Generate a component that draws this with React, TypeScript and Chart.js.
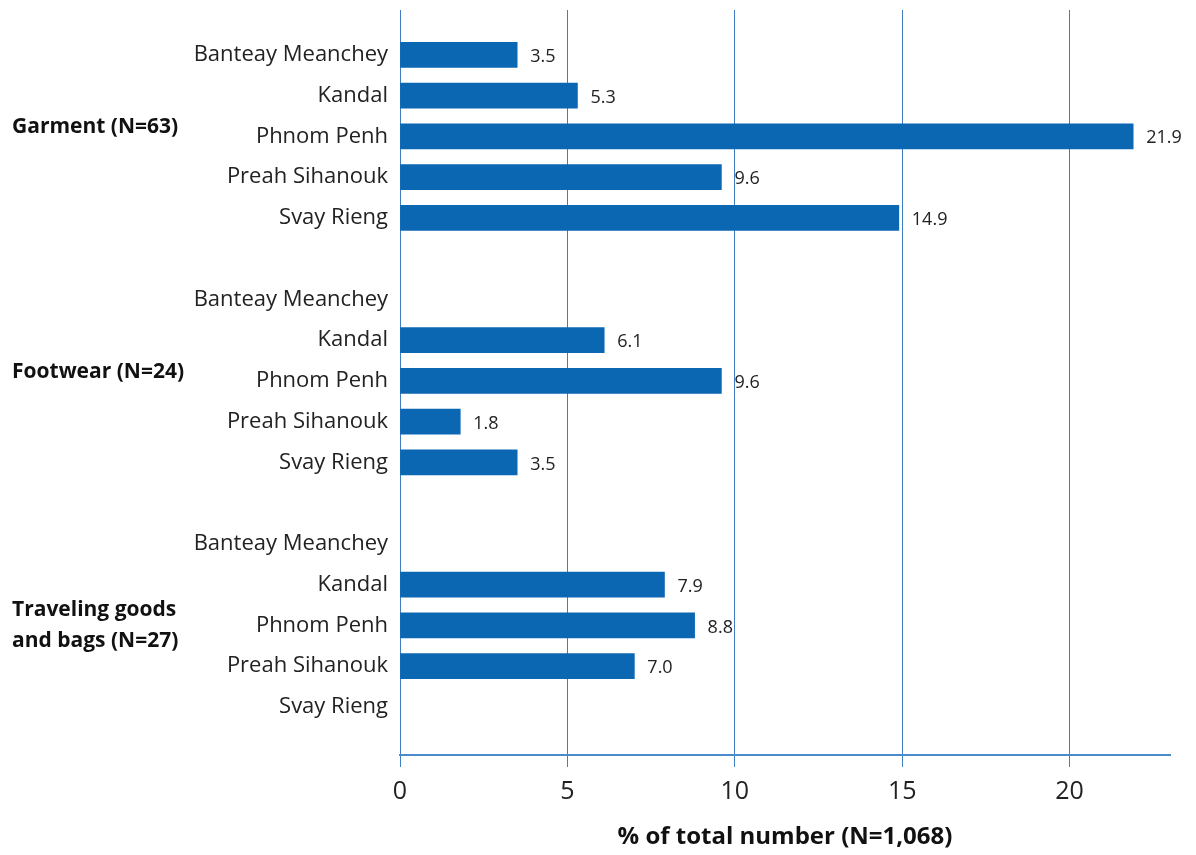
import { useEffect, useRef } from "react";
import { Chart, registerables } from "chart.js";

Chart.register(...registerables);

// Industry groups and the provinces listed under each of them
const GROUPS = ["Garment (N=63)", "Footwear (N=24)", "Traveling goods\nand bags (N=27)"];
const PROVINCES = ["Banteay Meanchey", "Kandal", "Phnom Penh", "Preah Sihanouk", "Svay Rieng"];

// Share of the total number, per province, for each group (null = no bar)
const GARMENT: (number | null)[] = [3.5, 5.3, 21.9, 9.6, 14.9];
const FOOTWEAR: (number | null)[] = [null, 6.1, 9.6, 1.8, 3.5];
const TRAVELING: (number | null)[] = [null, 7.9, 8.8, 7.0, null];

const X_TICKS = [0, 5, 10, 15, 20];
const X_MAX = 23;
const X_TITLE = "% of total number (N=1,068)";

const FONT = "'Open Sans', Lato, sans-serif";
const BAR_COLOR = "#0b67b2";
const GRID_COLOR = "#3f7fc1";
const AXIS_COLOR = "#4a8ccb";
const TEXT_COLOR = "#222222";

// One slot per province row, with an empty slot between groups
const SERIES = [GARMENT, FOOTWEAR, TRAVELING];
const ROWS = SERIES.flatMap((values, g) =>
  PROVINCES.map((name, p) => ({ slot: g * (PROVINCES.length + 1) + p, name, value: values[p] }))
);
const LAST_SLOT = ROWS[ROWS.length - 1].slot;

export default function App() {
  const canvasRef = useRef<HTMLCanvasElement | null>(null);

  useEffect(() => {
    const canvas = canvasRef.current;
    if (!canvas) return;

    const labelsPlugin = {
      id: "barAndGroupLabels",
      afterDatasetsDraw(chart: any) {
        const ctx = chart.ctx as CanvasRenderingContext2D;
        const meta = chart.getDatasetMeta(0);
        const raw = chart.data.datasets[0].data as { x: number; y: number }[];
        ctx.save();
        ctx.fillStyle = TEXT_COLOR;
        ctx.font = `18px ${FONT}`;
        ctx.textAlign = "left";
        ctx.textBaseline = "middle";
        meta.data.forEach((el: any, i: number) => {
          ctx.fillText(raw[i].x.toFixed(1), el.x + 13, el.y + 2);
        });

        const yScale = chart.scales.y;
        ctx.font = `bold 21px ${FONT}`;
        ctx.fillStyle = "#111111";
        GROUPS.forEach((label, g) => {
          const mid = yScale.getPixelForValue(g * (PROVINCES.length + 1) + (PROVINCES.length - 1) / 2);
          const lines = label.split("\n");
          const lh = 31;
          const start = lines.length === 1 ? mid - 9 : mid - ((lines.length - 1) * lh) / 2;
          lines.forEach((line, k) => ctx.fillText(line, 12, start + k * lh));
        });
        ctx.restore();
      },
    };

    const points = ROWS.filter((r) => r.value !== null).map((r) => ({ x: r.value as number, y: r.slot }));

    const chart = new Chart(canvas, {
      type: "bar",
      data: {
        datasets: [
          {
            data: points as any,
            backgroundColor: BAR_COLOR,
            borderWidth: 0,
            barThickness: 25,
          },
        ],
      },
      options: {
        indexAxis: "y",
        animation: false,
        responsive: false,
        devicePixelRatio: 1,
        layout: { padding: { top: 10, right: 26, left: 0, bottom: 0 } },
        plugins: { legend: { display: false }, tooltip: { enabled: false } },
        scales: {
          x: {
            type: "linear",
            position: "bottom",
            min: 0,
            max: X_MAX,
            afterBuildTicks: (scale: any) => {
              scale.ticks = X_TICKS.map((v) => ({ value: v }));
            },
            afterFit: (scale: any) => {
              scale.height = 100;
            },
            grid: {
              color: GRID_COLOR,
              lineWidth: 1,
              drawTicks: true,
              tickLength: 12,
              tickColor: GRID_COLOR,
            },
            border: { display: true, color: AXIS_COLOR, width: 2 },
            ticks: {
              font: { family: FONT, size: 25 },
              color: TEXT_COLOR,
              padding: 10,
              maxRotation: 0,
              autoSkip: false,
            },
            title: {
              display: true,
              text: X_TITLE,
              color: "#111111",
              font: { family: FONT, size: 24, weight: "bold" },
              padding: { top: 4, bottom: 3 },
            },
          },
          y: {
            type: "linear",
            reverse: true,
            offset: false,
            min: -1.1,
            max: LAST_SLOT + 1.18,
            afterBuildTicks: (scale: any) => {
              scale.ticks = ROWS.map((r) => ({ value: r.slot }));
            },
            afterFit: (scale: any) => {
              scale.width = 400;
              scale.paddingTop = 0;
              scale.paddingBottom = 0;
            },
            grid: { display: false, drawTicks: false, offset: false },
            border: { display: false },
            ticks: {
              autoSkip: false,
              padding: 12,
              color: TEXT_COLOR,
              font: { family: FONT, size: 22 },
              callback: (v: any) => {
                const row = ROWS.find((r) => r.slot === Number(v));
                return row ? row.name : "";
              },
            },
          },
        },
      },
      plugins: [labelsPlugin],
    });

    return () => chart.destroy();
  }, []);

  return (
    <div style={{ position: "absolute", left: 0, top: 0, width: 1196, height: 855, background: "#ffffff" }}>
      <canvas ref={canvasRef} width={1196} height={855} style={{ display: "block" }} />
    </div>
  );
}
